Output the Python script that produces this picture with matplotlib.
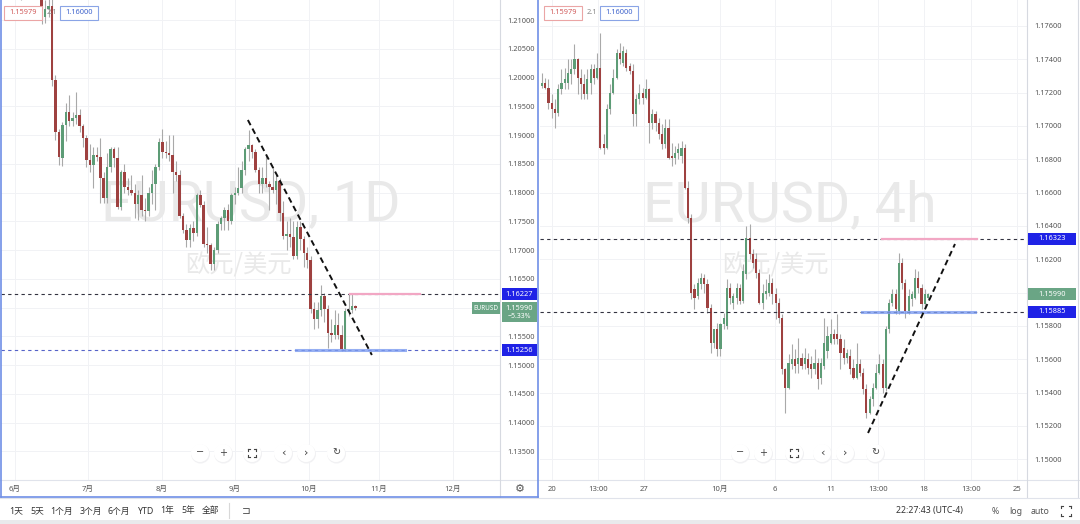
import numpy as np
import matplotlib
matplotlib.use('Agg')
import matplotlib.pyplot as plt
from matplotlib.patches import Rectangle, Ellipse
from matplotlib.lines import Line2D

plt.rcParams['font.family'] = ['Noto Sans', 'Noto Sans CJK SC', 'DejaVu Sans']

# ---------------- daily EURUSD (weekdays 2021-05-27 .. 2021-10-18) ----------------
d_open = [1.2192,1.2195,1.2193,1.2225,1.2215,1.2212,1.2140,1.2167,1.2190,1.2175,
          1.2180,1.2175,1.2105,1.2120,1.2125,1.1995,1.1905,1.1860,1.1917,1.1940,
          1.1925,1.1930,1.1935,1.1915,1.1895,1.1857,1.1848,1.1865,1.1862,1.1825,
          1.1790,1.1845,1.1875,1.1860,1.1775,1.1835,1.1810,1.1805,1.1800,1.1780,
          1.1795,1.1770,1.1768,1.1800,1.1815,1.1845,1.1888,1.1870,1.1868,1.1865,
          1.1835,1.1830,1.1760,1.1735,1.1718,1.1738,1.1730,1.1795,1.1778,1.1710,
          1.1708,1.1675,1.1700,1.1745,1.1755,1.1770,1.1750,1.1795,1.1800,1.1808,
          1.1840,1.1875,1.1882,1.1870,1.1840,1.1815,1.1825,1.1815,1.1810,1.1805,
          1.1820,1.1765,1.1725,1.1727,1.1723,1.1690,1.1740,1.1720,1.1695,1.1683,
          1.1598,1.1580,1.1595,1.1620,1.1598,1.1555,1.1552,1.1570,1.1552,1.1528,
          1.1594,1.1595,1.1602]
d_high = [1.2200,1.2200,1.2230,1.2255,1.2225,1.2215,1.2185,1.2195,1.2200,1.2200,
          1.2218,1.2180,1.2135,1.2145,1.2140,1.2005,1.1910,1.1922,1.1955,1.1970,
          1.1940,1.1975,1.1945,1.1920,1.1900,1.1885,1.1880,1.1880,1.1895,1.1835,
          1.1868,1.1880,1.1880,1.1880,1.1840,1.1850,1.1825,1.1830,1.1815,1.1805,
          1.1830,1.1790,1.1810,1.1840,1.1850,1.1895,1.1910,1.1890,1.1900,1.1900,
          1.1855,1.1840,1.1765,1.1745,1.1745,1.1750,1.1800,1.1805,1.1785,1.1740,
          1.1712,1.1705,1.1750,1.1760,1.1775,1.1780,1.1800,1.1810,1.1845,1.1855,
          1.1880,1.1909,1.1885,1.1875,1.1845,1.1845,1.1865,1.1820,1.1845,1.1830,
          1.1825,1.1785,1.1750,1.1755,1.1750,1.1750,1.1750,1.1725,1.1705,1.1690,
          1.1610,1.1610,1.1640,1.1625,1.1605,1.1580,1.1595,1.1590,1.1570,1.1600,
          1.1625,1.1625,1.1605]
d_low = [1.2160,1.2140,1.2190,1.2210,1.2180,1.2135,1.2138,1.2150,1.2165,1.2165,
         1.2145,1.2093,1.2095,1.2105,1.1985,1.1892,1.1847,1.1846,1.1890,1.1915,
         1.1915,1.1920,1.1905,1.1880,1.1845,1.1835,1.1807,1.1855,1.1782,1.1782,
         1.1782,1.1835,1.1845,1.1772,1.1770,1.1800,1.1795,1.1795,1.1755,1.1752,
         1.1760,1.1750,1.1760,1.1780,1.1770,1.1840,1.1860,1.1860,1.1855,1.1800,
         1.1820,1.1755,1.1730,1.1705,1.1705,1.1715,1.1725,1.1775,1.1705,1.1695,
         1.1665,1.1665,1.1695,1.1735,1.1735,1.1735,1.1745,1.1780,1.1795,1.1800,
         1.1830,1.1855,1.1860,1.1835,1.1800,1.1800,1.1810,1.1770,1.1800,1.1780,
         1.1750,1.1720,1.1700,1.1705,1.1685,1.1685,1.1700,1.1670,1.1668,1.1590,
         1.1563,1.1565,1.1585,1.1575,1.1530,1.1540,1.1545,1.1545,1.1525,1.1525,
         1.1585,1.1590,1.1595]
d_close = [1.2195,1.2193,1.2225,1.2215,1.2212,1.2140,1.2167,1.2190,1.2175,1.2180,
           1.2175,1.2105,1.2120,1.2125,1.1995,1.1905,1.1862,1.1917,1.1940,1.1925,
           1.1930,1.1935,1.1915,1.1895,1.1857,1.1848,1.1865,1.1862,1.1825,1.1790,
           1.1845,1.1875,1.1860,1.1775,1.1835,1.1810,1.1805,1.1800,1.1780,1.1795,
           1.1770,1.1768,1.1800,1.1815,1.1845,1.1888,1.1870,1.1868,1.1865,1.1835,
           1.1830,1.1760,1.1735,1.1718,1.1738,1.1730,1.1795,1.1778,1.1710,1.1708,
           1.1675,1.1700,1.1745,1.1755,1.1770,1.1750,1.1795,1.1800,1.1808,1.1840,
           1.1875,1.1882,1.1870,1.1840,1.1815,1.1825,1.1815,1.1810,1.1805,1.1820,
           1.1765,1.1725,1.1727,1.1723,1.1690,1.1740,1.1720,1.1695,1.1683,1.1598,
           1.1580,1.1595,1.1620,1.1598,1.1555,1.1552,1.1570,1.1552,1.1528,1.1594,
           1.1595,1.1602,1.1599]
d_month_ticks = [0.28, 21.4, 42.9, 64.0, 85.5, 105.8, 127.2]
d_month_labels = ['6月', '7月', '8月', '9月', '10月', '11月', '12月']
d_yticks = [1.135, 1.14, 1.145, 1.15, 1.155, 1.16, 1.165, 1.17, 1.175, 1.18,
            1.185, 1.19, 1.195, 1.20, 1.205, 1.21]
d_levels = {'res': 1.16227, 'sup': 1.15256}
d_trend = ([67.8, 103.75], [1.19261, 1.15174])

# ---------------- 4h EURUSD ----------------
h_open = [1.1724,1.1726,1.1723,1.1714,1.1710,1.1708,1.1722,1.1726,1.1726,1.1731,
          1.1734,1.1740,1.1729,1.1725,1.1719,1.1726,1.1734,1.1729,1.1735,1.1689,
          1.1687,1.1710,1.1720,1.1729,1.1744,1.1738,1.1744,1.1736,1.1733,1.1707,
          1.1716,1.1720,1.1717,1.1722,1.1702,1.1707,1.1702,1.1695,1.1689,1.1699,
          1.1682,1.1681,1.1684,1.1682,1.1687,1.1663,1.1645,1.1602,1.1598,1.1605,
          1.1609,1.1605,1.1591,1.1570,1.1578,1.1566,1.1581,1.1580,1.1603,1.1594,
          1.1597,1.1603,1.1595,1.1611,1.1633,1.1623,1.1620,1.1612,1.1594,1.1599,
          1.1600,1.1606,1.1599,1.1594,1.1585,1.1554,1.1543,1.1557,1.1560,1.1557,
          1.1561,1.1557,1.1560,1.1557,1.1554,1.1558,1.1549,1.1556,1.1565,1.1570,
          1.1575,1.1575,1.1572,1.1567,1.1561,1.1562,1.1555,1.1549,1.1557,1.1552,
          1.1542,1.1528,1.1536,1.1543,1.1552,1.1557,1.1543,1.1578,1.1594,1.1599,
          1.1589,1.1618,1.1606,1.1589,1.1596,1.1597,1.1609,1.1603,1.1593,1.1597]
h_high = [1.1732,1.1729,1.1728,1.1719,1.1716,1.1725,1.1734,1.1735,1.1740,1.1740,
          1.1749,1.1741,1.1734,1.1731,1.1734,1.1737,1.1737,1.1744,1.1756,1.1695,
          1.1713,1.1725,1.1734,1.1746,1.1750,1.1748,1.1746,1.1738,1.1737,1.1719,
          1.1725,1.1723,1.1728,1.1723,1.1710,1.1709,1.1705,1.1701,1.1704,1.1704,
          1.1690,1.1688,1.1690,1.1691,1.1689,1.1667,1.1647,1.1605,1.1609,1.1612,
          1.1611,1.1608,1.1593,1.1578,1.1582,1.1582,1.1588,1.1608,1.1606,1.1600,
          1.1606,1.1605,1.1617,1.1640,1.1641,1.1626,1.1624,1.1614,1.1605,1.1608,
          1.1611,1.1609,1.1603,1.1597,1.1587,1.1555,1.1563,1.1569,1.1566,1.1573,
          1.1564,1.1567,1.1564,1.1562,1.1566,1.1561,1.1561,1.1585,1.1580,1.1584,
          1.1578,1.1587,1.1575,1.1572,1.1566,1.1566,1.1560,1.1570,1.1560,1.1555,
          1.1545,1.1538,1.1546,1.1557,1.1563,1.1560,1.1580,1.1596,1.1602,1.1602,
          1.1624,1.1621,1.1608,1.1602,1.1601,1.1614,1.1613,1.1605,1.1602,1.1600]
h_low = [1.1723,1.1722,1.1710,1.1705,1.1699,1.1706,1.1719,1.1722,1.1722,1.1725,
         1.1731,1.1719,1.1716,1.1716,1.1716,1.1719,1.1725,1.1728,1.1686,1.1683,
         1.1686,1.1707,1.1719,1.1728,1.1737,1.1736,1.1733,1.1731,1.1700,1.1700,
         1.1713,1.1713,1.1716,1.1690,1.1698,1.1697,1.1692,1.1686,1.1687,1.1680,
         1.1676,1.1677,1.1680,1.1678,1.1662,1.1642,1.1596,1.1590,1.1596,1.1602,
         1.1600,1.1588,1.1564,1.1567,1.1562,1.1562,1.1578,1.1578,1.1593,1.1590,
         1.1593,1.1593,1.1594,1.1608,1.1620,1.1615,1.1609,1.1593,1.1590,1.1596,
         1.1598,1.1593,1.1584,1.1582,1.1551,1.1528,1.1542,1.1554,1.1552,1.1552,
         1.1554,1.1554,1.1551,1.1549,1.1551,1.1542,1.1545,1.1554,1.1561,1.1569,
         1.1569,1.1569,1.1554,1.1557,1.1558,1.1551,1.1548,1.1548,1.1550,1.1539,
         1.1525,1.1527,1.1532,1.1542,1.1551,1.1540,1.1541,1.1576,1.1592,1.1587,
         1.1587,1.1602,1.1585,1.1587,1.1592,1.1596,1.1600,1.1590,1.1591,1.1596]
h_close = [1.1726,1.1723,1.1714,1.1710,1.1708,1.1722,1.1726,1.1728,1.1732,1.1734,
           1.1740,1.1729,1.1725,1.1719,1.1728,1.1734,1.1729,1.1735,1.1687,1.1687,
           1.1710,1.1720,1.1729,1.1744,1.1740,1.1745,1.1735,1.1733,1.1707,1.1716,
           1.1720,1.1717,1.1722,1.1702,1.1707,1.1702,1.1695,1.1689,1.1699,1.1681,
           1.1681,1.1684,1.1686,1.1687,1.1663,1.1645,1.1600,1.1597,1.1606,1.1609,
           1.1605,1.1591,1.1570,1.1578,1.1566,1.1581,1.1585,1.1603,1.1597,1.1598,
           1.1603,1.1595,1.1613,1.1633,1.1623,1.1618,1.1612,1.1594,1.1600,1.1601,
           1.1606,1.1599,1.1594,1.1585,1.1554,1.1543,1.1558,1.1560,1.1556,1.1561,
           1.1556,1.1561,1.1555,1.1554,1.1558,1.1548,1.1558,1.1570,1.1574,1.1575,
           1.1572,1.1572,1.1564,1.1561,1.1564,1.1554,1.1549,1.1557,1.1552,1.1542,
           1.1528,1.1536,1.1543,1.1552,1.1557,1.1543,1.1578,1.1594,1.1599,1.1590,
           1.1618,1.1606,1.1589,1.1598,1.1599,1.1609,1.1603,1.1593,1.1599,1.1599]
h_time_ticks = [3.08, 17.26, 31.44, 54.87, 71.83, 89.09, 103.58, 117.76, 132.25, 146.42]
h_time_labels = ['20', '13:00', '27', '10月', '6', '11', '13:00', '18', '13:00', '25']
h_yticks = [1.150, 1.152, 1.154, 1.156, 1.158, 1.160, 1.162, 1.164, 1.166, 1.168,
            1.170, 1.172, 1.174, 1.176]
h_levels = {'res': 1.16323, 'sup': 1.15885}
h_trend = ([100.5, 127.3], [1.15158, 1.16292])

last_price = 1.15990
change_pct = '−5.33%'

# ---------------- styling ----------------
W, H = 1080, 524
UP, DN, WICK = '#5d9c76', '#9e4140', '#a9a9a9'
LBL_BLUE, LBL_GREEN = '#1f22e6', '#6aa585'
GRID = '#f1f2f5'
TXT = '#555555'

fig = plt.figure(figsize=(W / 100, H / 100), dpi=100)
fig.patch.set_facecolor('white')


def rect_px(x0, y0, x1, y1):
    return [x0 / W, 1 - y1 / H, (x1 - x0) / W, (y1 - y0) / H]


def fline(x0, y0, x1, y1, **kw):
    fig.add_artist(Line2D([x0 / W, x1 / W], [1 - y0 / H, 1 - y1 / H],
                          transform=fig.transFigure, **kw))


def ftext(x, y, s, **kw):
    kw.setdefault('ha', 'center')
    kw.setdefault('va', 'center')
    fig.text(x / W, 1 - y / H, s, **kw)


def candles(ax, x, o, h, l, c, width):
    o, h, l, c = map(np.asarray, (o, h, l, c))
    up = c >= o
    cols = np.where(up, UP, DN)
    ax.vlines(x, l, h, colors=WICK, lw=0.8, zorder=3)
    bottom = np.minimum(o, c)
    span = ax.get_ylim()[1] - ax.get_ylim()[0]
    height = np.maximum(np.abs(c - o), span / 480 * 1.0)
    ax.bar(x, height, width, bottom, color=cols, linewidth=0, zorder=4)


def setup(ax, xlim, ylim, yticks, xticks, xlabels, hidden=()):
    ax.set_xlim(*xlim)
    ax.set_ylim(*ylim)
    for s in ax.spines.values():
        s.set_visible(False)
    ax.yaxis.tick_right()
    ax.set_yticks(yticks)
    ax.set_yticklabels(['' if any(abs(v - hv) < 1e-9 for hv in hidden) else f'{v:.5f}'
                        for v in yticks])
    ax.set_xticks(xticks)
    ax.set_xticklabels(xlabels)
    ax.tick_params(axis='y', length=0, pad=5, labelsize=5.3, labelcolor=TXT)
    ax.tick_params(axis='x', length=0, pad=4, labelsize=5.5, labelcolor=TXT)
    ax.grid(True, color=GRID, lw=0.7)
    ax.set_axisbelow(True)


def ypix(ax, price):
    return H - ax.transData.transform((ax.get_xlim()[0], price))[1]


def price_box(ax, price, text, fc, x0, x1, h=12, dy=0, fs=5.3):
    yc = ypix(ax, price) + dy
    fig.add_artist(Rectangle((x0 / W, 1 - (yc + h / 2) / H), (x1 - x0) / W, h / H,
                             transform=fig.transFigure, fc=fc, ec='none', zorder=10))
    ftext((x0 + x1) / 2, yc, text, color='white', fontsize=fs, zorder=11,
          fontweight='bold' if fc == LBL_BLUE else 'normal')


# ---------------- left pane (1D) ----------------
axL = fig.add_axes(rect_px(1, 0, 500, 480))
setup(axL, (-3.78, 140.9), (1.13, 1.21348), d_yticks, d_month_ticks, d_month_labels,
      hidden=(1.16,))
dx = np.arange(len(d_open)) - 3
candles(axL, dx, d_open, d_high, d_low, d_close, 0.72)
axL.text(0.501, 0.571, 'EURUSD, 1D', transform=axL.transAxes, ha='center', va='center',
         fontsize=40, color='#e9e9e9', zorder=1, family=['Roboto', 'DejaVu Sans'])
axL.text(0.475, 0.446, '欧元/美元', transform=axL.transAxes, ha='center', va='center',
         fontsize=17.5, color='#e9e9e9', zorder=1, family=['Noto Sans CJK SC', 'DejaVu Sans'])
axL.axhline(d_levels['res'], color='#333340', lw=0.8, ls=(0, (3, 3)), zorder=5)
axL.axhline(d_levels['sup'], color='#5563c8', lw=0.8, ls=(0, (3, 3)), zorder=5)
axL.plot([97.4, 117.7], [d_levels['res']] * 2, color='#f2a7c4', lw=1.6, zorder=5.5)
axL.plot([81.7, 113.3], [d_levels['sup']] * 2, color='#7d9cf0', lw=2.2, alpha=0.8, zorder=5.5)
axL.plot(*d_trend, color='#111111', lw=1.4, ls=(0, (3, 2)), zorder=6)

# ---------------- right pane (4h) ----------------
axR = fig.add_axes(rect_px(540, 0, 1027, 480))
setup(axR, (-0.62, 149.5), (1.14876, 1.17756), h_yticks, h_time_ticks, h_time_labels,
      hidden=(1.16,))
hx = np.arange(len(h_open))
candles(axR, hx, h_open, h_high, h_low, h_close, 0.66)
axR.text(0.513, 0.571, 'EURUSD, 4h', transform=axR.transAxes, ha='center', va='center',
         fontsize=40, color='#e9e9e9', zorder=1, family=['Roboto', 'DejaVu Sans'])
axR.text(0.483, 0.446, '欧元/美元', transform=axR.transAxes, ha='center', va='center',
         fontsize=17.5, color='#e9e9e9', zorder=1, family=['Noto Sans CJK SC', 'DejaVu Sans'])
axR.axhline(h_levels['res'], color='#333340', lw=0.8, ls=(0, (3, 3)), zorder=5)
axR.axhline(h_levels['sup'], color='#333340', lw=0.8, ls=(0, (3, 3)), zorder=5)
axR.plot([104.8, 134.1], [h_levels['res']] * 2, color='#f2a7c4', lw=1.6, zorder=5.5)
axR.plot([98.6, 133.5], [h_levels['sup']] * 2, color='#7d9cf0', lw=2.2, alpha=0.8, zorder=5.5)
axR.plot(*h_trend, color='#111111', lw=1.4, ls=(0, (3, 2)), zorder=6)

# ---------------- price axis labels ----------------
price_box(axL, d_levels['res'], f"{d_levels['res']:.5f}", LBL_BLUE, 502, 537)
price_box(axL, d_levels['sup'], f"{d_levels['sup']:.5f}", LBL_BLUE, 502, 537)
yc = ypix(axL, last_price)
fig.add_artist(Rectangle((502 / W, 1 - (yc + 14) / H), 35 / W, 20 / H,
                         transform=fig.transFigure, fc=LBL_GREEN, ec='none', zorder=10))
ftext(519.5, yc + 0.5, f'{last_price:.5f}', color='white', fontsize=5.3, zorder=11)
ftext(519.5, yc + 8, change_pct, color='white', fontsize=5.0, zorder=11)
fig.add_artist(Rectangle((472 / W, 1 - (yc + 6) / H), 28 / W, 12 / H,
                         transform=fig.transFigure, fc=LBL_GREEN, ec='none', zorder=10))
ftext(486, yc, 'EURUSD', color='white', fontsize=4.6, zorder=11)

price_box(axR, h_levels['res'], f"{h_levels['res']:.5f}", LBL_BLUE, 1028, 1076)
price_box(axR, last_price, f'{last_price:.5f}', LBL_GREEN, 1028, 1076)
price_box(axR, h_levels['sup'], f"{h_levels['sup']:.5f}", LBL_BLUE, 1028, 1076)

# ---------------- frame lines ----------------
fline(0, 480, 1080, 480, color='#e0e3eb', lw=0.8)
fline(500, 0, 500, 497, color='#d6d9e0', lw=0.8)
fline(1027, 0, 1027, 497, color='#d6d9e0', lw=0.8)
fline(1078, 0, 1078, 497, color='#d6d9e0', lw=0.8)
fline(0, 498, 1080, 498, color='#e0e3eb', lw=0.8)
# selected pane border
for (a, b, c, d) in [(0.5, 0, 0.5, 497), (538, 0, 538, 497), (0.5, 497, 538, 497)]:
    fline(a, b, c, d, color='#6f8fe6', lw=1.2)
fig.add_artist(Rectangle((0, 0), 1, 4 / H, transform=fig.transFigure,
                         fc='#e9eaec', ec='none', zorder=0))
ftext(520, 489, '⚙', color='#555', fontsize=8, family=['DejaVu Sans'])

# ---------------- legend boxes top-left ----------------
for off in (0, 540):
    fig.add_artist(Rectangle(((4 + off) / W, 1 - 20 / H), 38 / W, 14 / H, transform=fig.transFigure,
                             fc='white', ec='#eba5a5', lw=0.8, zorder=10))
    ftext(23 + off, 13, '1.15979', color='#d05a5a', fontsize=5.3, zorder=11)
    ftext(52 + off, 12.5, '2.1', color='#888888', fontsize=5.3, zorder=11)
    fig.add_artist(Rectangle(((60 + off) / W, 1 - 20 / H), 38 / W, 14 / H, transform=fig.transFigure,
                             fc='white', ec='#8aa4e6', lw=0.8, zorder=10))
    ftext(79 + off, 13, '1.16000', color='#3d62cc', fontsize=5.3, zorder=11)


# ---------------- navigation buttons ----------------
def corners(cx, cy, s=4, g=2):
    for sx in (-1, 1):
        for sy in (-1, 1):
            fline(cx + sx * s, cy + sy * s, cx + sx * (s - g), cy + sy * s, color='#444', lw=0.8, zorder=12)
            fline(cx + sx * s, cy + sy * s, cx + sx * s, cy + sy * (s - g), color='#444', lw=0.8, zorder=12)


for xs in ([200, 223, 252, 283, 306, 336], [740, 763, 794, 822, 845, 875]):
    for x, sym in zip(xs, ['−', '+', None, '‹', '›', '↻']):
        fig.add_artist(Ellipse(((x + 0.5) / W, 1 - 454 / H), 19 / W, 19 / H, transform=fig.transFigure,
                               fc='#f1f1f3', ec='none', zorder=11))
        fig.add_artist(Ellipse((x / W, 1 - 453 / H), 18 / W, 18 / H, transform=fig.transFigure,
                               fc='white', ec='none', zorder=11))
        if sym is None:
            corners(x, 453)
        else:
            ftext(x, 452.5, sym, color='#444', fontsize=8 if sym in '‹›' else 7,
                  family=['DejaVu Sans'], zorder=12)

# ---------------- bottom toolbar ----------------
for x, s in [(16, '1天'), (37, '5天'), (62, '1个月'), (91, '3个月'), (119, '6个月'),
             (146, 'YTD'), (167, '1年'), (188, '5年'), (211, '全部')]:
    ftext(x, 511, s, color='#333', fontsize=6.3)
fline(229, 503, 229, 518, color='#d8d8d8', lw=0.8)
ftext(246, 511, '⊐', color='#444', fontsize=7.5, family=['DejaVu Sans'])
ftext(929, 511, '22:27:43 (UTC-4)', color='#333', fontsize=6.3)
ftext(995, 511, '%', color='#555', fontsize=6.3)
ftext(1016, 511, 'log', color='#555', fontsize=6.3)
ftext(1040, 511, 'auto', color='#555', fontsize=6.3)
corners(1066, 511, s=5, g=2)

fig.savefig('out.png', dpi=100, facecolor='white')
